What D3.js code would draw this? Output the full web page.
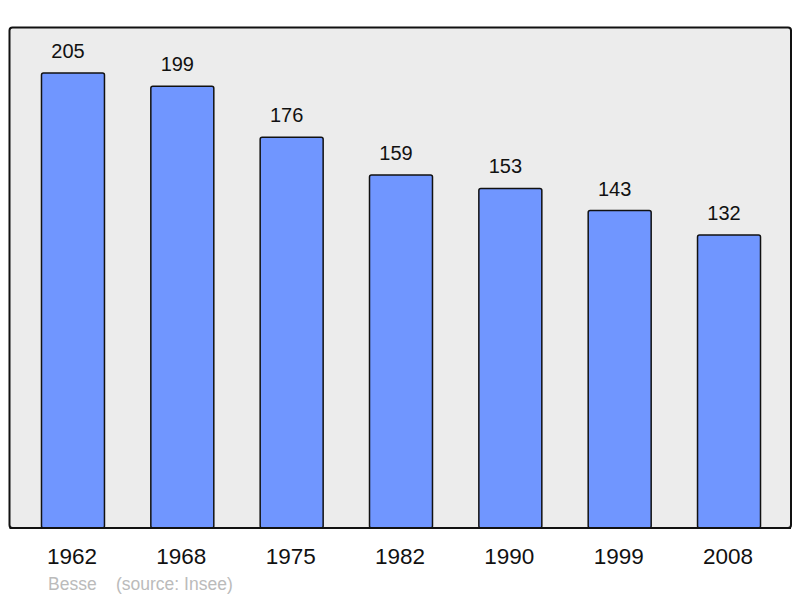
<!DOCTYPE html>
<html>
<head>
<meta charset="utf-8">
<script src="https://cdn.jsdelivr.net/npm/d3@7"></script>
<style>
  body { margin: 0; background: #fff; }
  text { font-family: "Liberation Sans", Arial, sans-serif; }
</style>
</head>
<body>
<svg width="800" height="598"></svg>
<script>
// population data
var years = ['1962', '1968', '1975', '1982', '1990', '1999', '2008'];
var population = [205, 199, 176, 159, 153, 143, 132];
var commune = 'Besse';
var source = '(source: Insee)';

var svg = d3.select('svg');

// panel box
var boxLeft = 9.5, boxTop = 27.5, boxRight = 791, boxBottom = 528;

svg.append('rect')
    .attr('x', boxLeft)
    .attr('y', boxTop)
    .attr('width', boxRight - boxLeft)
    .attr('height', boxBottom - boxTop)
    .attr('rx', 3)
    .style('fill', '#ececec')
    .style('stroke', '#111')
    .style('stroke-width', 2);

var x = d3.scaleBand()
    .domain(years)
    .range([10, 792])
    .paddingInner(0.424)
    .paddingOuter(0.288);

var y = d3.scaleLinear()
    .domain([0, 205])
    .range([boxBottom, 73]);

var bars = svg.append('g');

bars.selectAll('rect')
    .data(population)
    .enter()
    .append('rect')
    .attr('x', function (d, i) { return x(years[i]); })
    .attr('y', function (d) { return y(d); })
    .attr('width', x.bandwidth())
    .attr('height', function (d) { return boxBottom - y(d); })
    .attr('rx', 2)
    .style('fill', '#7096ff')
    .style('stroke', '#111')
    .style('stroke-width', 1.5);

// value labels sit a little left of the bar centre
bars.selectAll('text')
    .data(population)
    .enter()
    .append('text')
    .text(function (d) { return d; })
    .attr('x', function (d, i) { return x(years[i]) + x.bandwidth() / 2 - 5; })
    .attr('y', function (d) { return y(d) - 15; })
    .attr('text-anchor', 'middle')
    .style('font-size', '20px')
    .style('fill', '#111');

// redraw bottom edge on top of the bars
svg.append('line')
    .attr('x1', boxLeft)
    .attr('x2', boxRight)
    .attr('y1', boxBottom)
    .attr('y2', boxBottom)
    .style('stroke', '#111')
    .style('stroke-width', 2);

// year labels
var xAxis = svg.append('g')
    .attr('transform', 'translate(0,' + boxBottom + ')')
    .call(d3.axisBottom(x).tickSize(0));

xAxis.select('.domain').remove();
xAxis.selectAll('text')
    .attr('x', -1)
    .attr('y', 36)
    .attr('dy', null)
    .style('font-family', '"Liberation Sans", Arial, sans-serif')
    .style('font-size', '22.5px')
    .style('fill', '#111');

svg.append('text')
    .text(commune)
    .attr('x', 48)
    .attr('y', 590)
    .style('font-size', '17.5px')
    .style('fill', '#bbb');

svg.append('text')
    .text(source)
    .attr('x', 116)
    .attr('y', 590)
    .style('font-size', '17.5px')
    .style('fill', '#bbb');
</script>
</body>
</html>
